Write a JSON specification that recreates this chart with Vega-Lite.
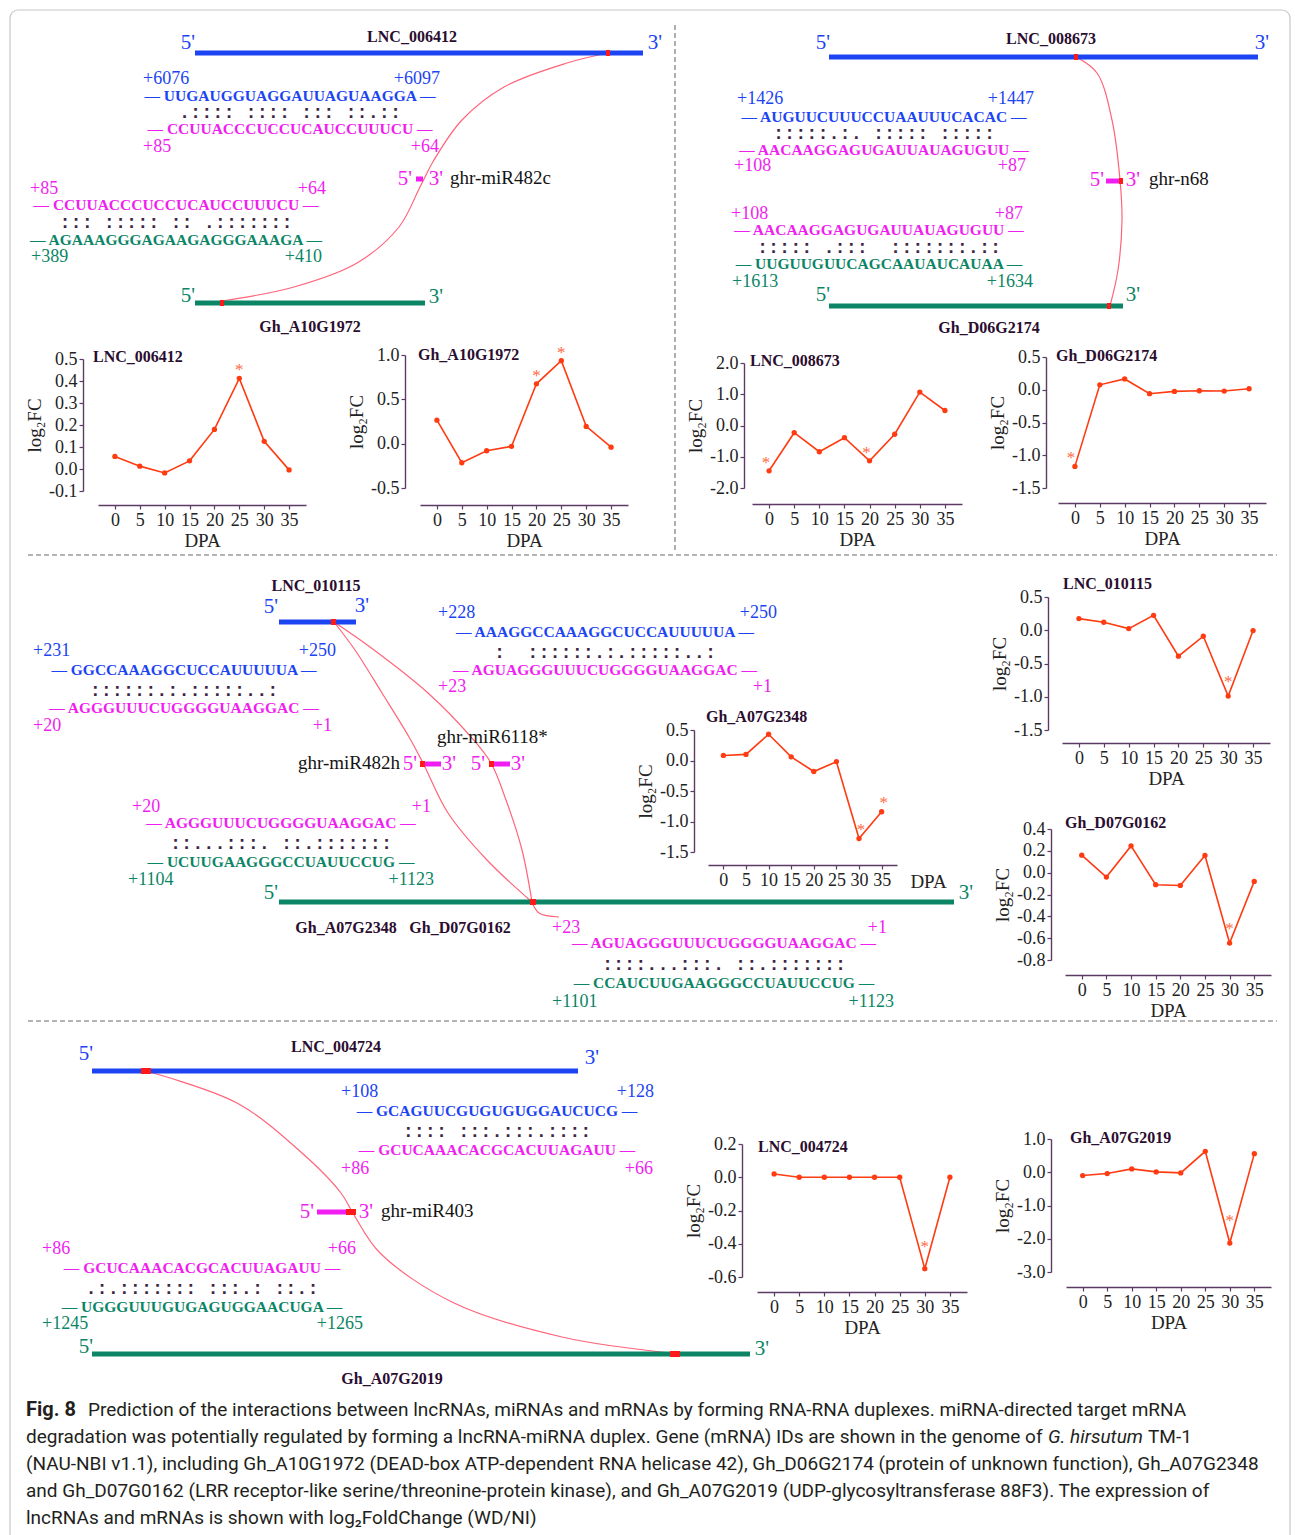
{
"$schema": "https://vega.github.io/schema/vega-lite/v6.json",
"width": 1295, "height": 1535,
"autosize": {"type": "none"},
"padding": 0,
"background": "white",
"config": {
  "view": {"stroke": null},
  "axis": {"domainColor": "#5b3a63", "tickColor": "#5b3a63", "domainWidth": 1.4, "tickWidth": 1.2, "tickSize": 4,
    "labelFont": "Liberation Serif", "labelFontSize": 18, "labelColor": "#222222", "labelPadding": 2,
    "labelFlush": false, "labelOverlap": false, "labelBound": false,
    "titleFont": "Liberation Serif", "titleFontSize": 19, "titleFontWeight": "normal", "titleColor": "#222222", "grid": false},
  "axisBottom": {"titlePadding": 2},
  "axisLeft": {"titlePadding": 4}
},
"datasets": {
  "expr": [
    {"g":"LNC_006412","d":0,"v":0.057,"s":false},{"g":"LNC_006412","d":5,"v":0.013,"s":false},{"g":"LNC_006412","d":10,"v":-0.018,"s":false},{"g":"LNC_006412","d":15,"v":0.037,"s":false},{"g":"LNC_006412","d":20,"v":0.18,"s":false},{"g":"LNC_006412","d":25,"v":0.412,"s":true},{"g":"LNC_006412","d":30,"v":0.126,"s":false},{"g":"LNC_006412","d":35,"v":-0.004,"s":false},
    {"g":"Gh_A10G1972","d":0,"v":0.265,"s":false},{"g":"Gh_A10G1972","d":5,"v":-0.215,"s":false},{"g":"Gh_A10G1972","d":10,"v":-0.08,"s":false},{"g":"Gh_A10G1972","d":15,"v":-0.03,"s":false},{"g":"Gh_A10G1972","d":20,"v":0.675,"s":true},{"g":"Gh_A10G1972","d":25,"v":0.935,"s":true},{"g":"Gh_A10G1972","d":30,"v":0.195,"s":false},{"g":"Gh_A10G1972","d":35,"v":-0.04,"s":false},
    {"g":"LNC_008673","d":0,"v":-1.45,"s":true},{"g":"LNC_008673","d":5,"v":-0.23,"s":false},{"g":"LNC_008673","d":10,"v":-0.84,"s":false},{"g":"LNC_008673","d":15,"v":-0.39,"s":false},{"g":"LNC_008673","d":20,"v":-1.13,"s":true},{"g":"LNC_008673","d":25,"v":-0.28,"s":false},{"g":"LNC_008673","d":30,"v":1.07,"s":false},{"g":"LNC_008673","d":35,"v":0.48,"s":false},
    {"g":"Gh_D06G2174","d":0,"v":-1.17,"s":true},{"g":"Gh_D06G2174","d":5,"v":0.075,"s":false},{"g":"Gh_D06G2174","d":10,"v":0.165,"s":false},{"g":"Gh_D06G2174","d":15,"v":-0.06,"s":false},{"g":"Gh_D06G2174","d":20,"v":-0.025,"s":false},{"g":"Gh_D06G2174","d":25,"v":-0.015,"s":false},{"g":"Gh_D06G2174","d":30,"v":-0.02,"s":false},{"g":"Gh_D06G2174","d":35,"v":0.015,"s":false},
    {"g":"LNC_010115","d":0,"v":0.175,"s":false},{"g":"LNC_010115","d":5,"v":0.12,"s":false},{"g":"LNC_010115","d":10,"v":0.025,"s":false},{"g":"LNC_010115","d":15,"v":0.225,"s":false},{"g":"LNC_010115","d":20,"v":-0.39,"s":false},{"g":"LNC_010115","d":25,"v":-0.09,"s":false},{"g":"LNC_010115","d":30,"v":-0.99,"s":true},{"g":"LNC_010115","d":35,"v":-0.005,"s":false},
    {"g":"Gh_D07G0162","d":0,"v":0.16,"s":false},{"g":"Gh_D07G0162","d":5,"v":-0.04,"s":false},{"g":"Gh_D07G0162","d":10,"v":0.245,"s":false},{"g":"Gh_D07G0162","d":15,"v":-0.11,"s":false},{"g":"Gh_D07G0162","d":20,"v":-0.117,"s":false},{"g":"Gh_D07G0162","d":25,"v":0.158,"s":false},{"g":"Gh_D07G0162","d":30,"v":-0.645,"s":true},{"g":"Gh_D07G0162","d":35,"v":-0.08,"s":false},
    {"g":"Gh_A07G2348","d":0,"v":0.083,"s":false},{"g":"Gh_A07G2348","d":5,"v":0.1,"s":false},{"g":"Gh_A07G2348","d":10,"v":0.43,"s":false},{"g":"Gh_A07G2348","d":15,"v":0.06,"s":false},{"g":"Gh_A07G2348","d":20,"v":-0.18,"s":false},{"g":"Gh_A07G2348","d":25,"v":-0.02,"s":false},{"g":"Gh_A07G2348","d":30,"v":-1.28,"s":true},{"g":"Gh_A07G2348","d":35,"v":-0.84,"s":true},
    {"g":"LNC_004724","d":0,"v":0.02,"s":false},{"g":"LNC_004724","d":5,"v":0.0,"s":false},{"g":"LNC_004724","d":10,"v":0.0,"s":false},{"g":"LNC_004724","d":15,"v":0.0,"s":false},{"g":"LNC_004724","d":20,"v":0.0,"s":false},{"g":"LNC_004724","d":25,"v":0.0,"s":false},{"g":"LNC_004724","d":30,"v":-0.55,"s":true},{"g":"LNC_004724","d":35,"v":0.0,"s":false},
    {"g":"Gh_A07G2019","d":0,"v":-0.1,"s":false},{"g":"Gh_A07G2019","d":5,"v":-0.04,"s":false},{"g":"Gh_A07G2019","d":10,"v":0.1,"s":false},{"g":"Gh_A07G2019","d":15,"v":0.01,"s":false},{"g":"Gh_A07G2019","d":20,"v":-0.02,"s":false},{"g":"Gh_A07G2019","d":25,"v":0.63,"s":false},{"g":"Gh_A07G2019","d":30,"v":-2.13,"s":true},{"g":"Gh_A07G2019","d":35,"v":0.56,"s":false}
  ],
  "shapes": [
    {"k":"frame","x":10,"x2":1290,"y":10,"y2":1560,"r":"grid"},
    {"k":"div","x":675,"x2":675,"y":25,"y2":553,"r":"grid"},
    {"k":"div","x":28,"x2":1277,"y":555,"y2":555,"r":"grid"},
    {"k":"div","x":28,"x2":1277,"y":1021,"y2":1021,"r":"grid"},
    {"k":"bar","x":195,"x2":643,"y":53,"y2":53,"r":"lnc"},
    {"k":"bar","x":195,"x2":425,"y":303,"y2":303,"r":"mrna"},
    {"k":"mbar","x":416,"x2":423,"y":179,"y2":179,"r":"mir"},
    {"k":"bar","x":829,"x2":1258,"y":57,"y2":57,"r":"lnc"},
    {"k":"bar","x":829,"x2":1123,"y":306,"y2":306,"r":"mrna"},
    {"k":"mbar","x":1106,"x2":1123,"y":181,"y2":181,"r":"mir"},
    {"k":"bar","x":279,"x2":356,"y":622,"y2":622,"r":"lnc"},
    {"k":"bar","x":279,"x2":954,"y":902,"y2":902,"r":"mrna"},
    {"k":"mbar","x":420,"x2":441,"y":764,"y2":764,"r":"mir"},
    {"k":"mbar","x":489,"x2":510,"y":764,"y2":764,"r":"mir"},
    {"k":"bar","x":92,"x2":578,"y":1071,"y2":1071,"r":"lnc"},
    {"k":"mbar","x":317,"x2":356,"y":1212,"y2":1212,"r":"mir"},
    {"k":"bar","x":92,"x2":750,"y":1354,"y2":1354,"r":"mrna"},
    {"k":"site","x":606,"x2":610,"y":53,"y2":53,"r":"site"},
    {"k":"site","x":220,"x2":224,"y":303,"y2":303,"r":"site"},
    {"k":"site","x":1074,"x2":1078,"y":57,"y2":57,"r":"site"},
    {"k":"site","x":1107,"x2":1111,"y":306,"y2":306,"r":"site"},
    {"k":"site","x":1119,"x2":1123,"y":181,"y2":181,"r":"site"},
    {"k":"site","x":331,"x2":336,"y":622,"y2":622,"r":"site"},
    {"k":"site","x":530,"x2":536,"y":902,"y2":902,"r":"site"},
    {"k":"site","x":420,"x2":425,"y":764,"y2":764,"r":"site"},
    {"k":"site","x":489,"x2":494,"y":764,"y2":764,"r":"site"},
    {"k":"site","x":141,"x2":151,"y":1071,"y2":1071,"r":"site"},
    {"k":"site","x":346,"x2":356,"y":1212,"y2":1212,"r":"site"},
    {"k":"site","x":670,"x2":680,"y":1354,"y2":1354,"r":"site"}
  ],
  "curves": [
    {"c":"tl","i":0,"x":608,"y":53},{"c":"tl","i":1,"x":567,"y":63},{"c":"tl","i":2,"x":504,"y":87},{"c":"tl","i":3,"x":462,"y":120},{"c":"tl","i":4,"x":434,"y":160},{"c":"tl","i":5,"x":420,"y":187},{"c":"tl","i":6,"x":399,"y":227},{"c":"tl","i":7,"x":357,"y":263},{"c":"tl","i":8,"x":294,"y":287},{"c":"tl","i":9,"x":222,"y":301},
    {"c":"tr","i":0,"x":1076,"y":57},{"c":"tr","i":1,"x":1097,"y":73},{"c":"tr","i":2,"x":1112,"y":120},{"c":"tr","i":3,"x":1120,"y":180},{"c":"tr","i":4,"x":1122,"y":220},{"c":"tr","i":5,"x":1118,"y":270},{"c":"tr","i":6,"x":1110,"y":306},
    {"c":"ma","i":0,"x":334,"y":622},{"c":"ma","i":1,"x":355,"y":650},{"c":"ma","i":2,"x":382,"y":693},{"c":"ma","i":3,"x":409,"y":737},{"c":"ma","i":4,"x":423,"y":763},{"c":"ma","i":5,"x":448,"y":813},{"c":"ma","i":6,"x":487,"y":860},{"c":"ma","i":7,"x":532,"y":902},
    {"c":"mb","i":0,"x":334,"y":622},{"c":"mb","i":1,"x":370,"y":647},{"c":"mb","i":2,"x":428,"y":693},{"c":"mb","i":3,"x":471,"y":737},{"c":"mb","i":4,"x":491,"y":763},{"c":"mb","i":5,"x":506,"y":800},{"c":"mb","i":6,"x":522,"y":850},{"c":"mb","i":7,"x":532,"y":902},
    {"c":"mt","i":0,"x":532,"y":902},{"c":"mt","i":1,"x":539,"y":913},{"c":"mt","i":2,"x":559,"y":917},
    {"c":"bb","i":0,"x":146,"y":1071},{"c":"bb","i":1,"x":237,"y":1103},{"c":"bb","i":2,"x":302,"y":1153},{"c":"bb","i":3,"x":341,"y":1193},{"c":"bb","i":4,"x":354,"y":1215},{"c":"bb","i":5,"x":380,"y":1253},{"c":"bb","i":6,"x":454,"y":1303},{"c":"bb","i":7,"x":562,"y":1337},{"c":"bb","i":8,"x":670,"y":1353}
  ],
  "labels": [
    {"k":"gene","t":"LNC_006412","x":412,"y":37,"r":"dark"},
    {"k":"prime","t":"5'","x":188,"y":43,"r":"lnc"},
    {"k":"prime","t":"3'","x":655,"y":43,"r":"lnc"},
    {"k":"numL","t":"+6076","x":143,"y":79,"r":"lnc"},
    {"k":"numR","t":"+6097","x":440,"y":79,"r":"lnc"},
    {"k":"seq","t":"— UUGAUGGUAGGAUUAGUAAGGA —","x":290,"y":96,"r":"lnc"},
    {"k":"dots","t":"\u00a0\u00a0.::::\u00a0::::\u00a0:::\u00a0::.::","x":290,"y":112,"r":"dark"},
    {"k":"seq","t":"— CCUUACCCUCCUCAUCCUUUCU —","x":290,"y":129,"r":"mir"},
    {"k":"numL","t":"+85","x":143,"y":147,"r":"mir"},
    {"k":"numR","t":"+64","x":439,"y":147,"r":"mir"},
    {"k":"prime","t":"5'","x":405,"y":179,"r":"mir"},
    {"k":"prime","t":"3'","x":436,"y":179,"r":"mir"},
    {"k":"mirL","t":"ghr-miR482c","x":450,"y":178,"r":"black"},
    {"k":"numL","t":"+85","x":30,"y":189,"r":"mir"},
    {"k":"numR","t":"+64","x":326,"y":189,"r":"mir"},
    {"k":"seq","t":"— CCUUACCCUCCUCAUCCUUUCU —","x":176,"y":205,"r":"mir"},
    {"k":"dots","t":"\u00a0:::\u00a0:::::\u00a0::\u00a0.:::::::","x":176,"y":222,"r":"dark"},
    {"k":"seq","t":"— AGAAAGGGAGAAGAGGGAAAGA —","x":176,"y":240,"r":"mrna"},
    {"k":"numL","t":"+389","x":31,"y":257,"r":"mrna"},
    {"k":"numR","t":"+410","x":322,"y":257,"r":"mrna"},
    {"k":"prime","t":"5'","x":188,"y":296,"r":"mrna"},
    {"k":"prime","t":"3'","x":436,"y":297,"r":"mrna"},
    {"k":"gene","t":"Gh_A10G1972","x":310,"y":327,"r":"dark"},

    {"k":"gene","t":"LNC_008673","x":1051,"y":39,"r":"dark"},
    {"k":"prime","t":"5'","x":823,"y":43,"r":"lnc"},
    {"k":"prime","t":"3'","x":1262,"y":43,"r":"lnc"},
    {"k":"numL","t":"+1426","x":737,"y":99,"r":"lnc"},
    {"k":"numR","t":"+1447","x":1034,"y":99,"r":"lnc"},
    {"k":"seq","t":"— AUGUUCUUUCCUAAUUUCACAC —","x":884,"y":117,"r":"lnc"},
    {"k":"dots","t":"\u00a0:::::.:.\u00a0:::::\u00a0:::::\u00a0","x":884,"y":133,"r":"dark"},
    {"k":"seq","t":"— AACAAGGAGUGAUUAUAGUGUU —","x":884,"y":150,"r":"mir"},
    {"k":"numL","t":"+108","x":734,"y":166,"r":"mir"},
    {"k":"numR","t":"+87","x":1026,"y":166,"r":"mir"},
    {"k":"prime","t":"5'","x":1097,"y":180,"r":"mir"},
    {"k":"prime","t":"3'","x":1133,"y":180,"r":"mir"},
    {"k":"mirL","t":"ghr-n68","x":1149,"y":179,"r":"black"},
    {"k":"numL","t":"+108","x":731,"y":214,"r":"mir"},
    {"k":"numR","t":"+87","x":1023,"y":214,"r":"mir"},
    {"k":"seq","t":"— AACAAGGAGUGAUUAUAGUGUU —","x":879,"y":230,"r":"mir"},
    {"k":"dots","t":":::::\u00a0.:::\u00a0\u00a0:::::::.::","x":879,"y":247,"r":"dark"},
    {"k":"seq","t":"— UUGUUGUUCAGCAAUAUCAUAA —","x":879,"y":264,"r":"mrna"},
    {"k":"numL","t":"+1613","x":732,"y":282,"r":"mrna"},
    {"k":"numR","t":"+1634","x":1033,"y":282,"r":"mrna"},
    {"k":"prime","t":"5'","x":823,"y":295,"r":"mrna"},
    {"k":"prime","t":"3'","x":1133,"y":295,"r":"mrna"},
    {"k":"gene","t":"Gh_D06G2174","x":989,"y":328,"r":"dark"},

    {"k":"gene","t":"LNC_010115","x":316,"y":586,"r":"dark"},
    {"k":"prime","t":"5'","x":271,"y":607,"r":"lnc"},
    {"k":"prime","t":"3'","x":362,"y":606,"r":"lnc"},
    {"k":"numL","t":"+231","x":33,"y":651,"r":"lnc"},
    {"k":"numR","t":"+250","x":336,"y":651,"r":"lnc"},
    {"k":"seq","t":"— GGCCAAAGGCUCCAUUUUUA —","x":184,"y":670,"r":"lnc"},
    {"k":"dots","t":"\u00a0\u00a0::::::.:.:::::..:\u00a0","x":184,"y":690,"r":"dark"},
    {"k":"seq","t":"— AGGGUUUCUGGGGUAAGGAC —","x":184,"y":708,"r":"mir"},
    {"k":"numL","t":"+20","x":33,"y":726,"r":"mir"},
    {"k":"numR","t":"+1","x":332,"y":726,"r":"mir"},
    {"k":"numL","t":"+228","x":438,"y":613,"r":"lnc"},
    {"k":"numR","t":"+250","x":777,"y":613,"r":"lnc"},
    {"k":"seq","t":"— AAAGGCCAAAGGCUCCAUUUUUA —","x":605,"y":632,"r":"lnc"},
    {"k":"dots","t":"\u00a0\u00a0:\u00a0\u00a0::::::.:.:::::..:\u00a0","x":605,"y":652,"r":"dark"},
    {"k":"seq","t":"— AGUAGGGUUUCUGGGGUAAGGAC —","x":605,"y":670,"r":"mir"},
    {"k":"numL","t":"+23","x":438,"y":687,"r":"mir"},
    {"k":"numR","t":"+1","x":772,"y":687,"r":"mir"},
    {"k":"mirL","t":"ghr-miR6118*","x":437,"y":737,"r":"black"},
    {"k":"mirR","t":"ghr-miR482h","x":400,"y":763,"r":"black"},
    {"k":"prime","t":"5'","x":410,"y":764,"r":"mir"},
    {"k":"prime","t":"3'","x":449,"y":764,"r":"mir"},
    {"k":"prime","t":"5'","x":478,"y":764,"r":"mir"},
    {"k":"prime","t":"3'","x":518,"y":764,"r":"mir"},
    {"k":"numL","t":"+20","x":132,"y":807,"r":"mir"},
    {"k":"numR","t":"+1","x":431,"y":807,"r":"mir"},
    {"k":"seq","t":"— AGGGUUUCUGGGGUAAGGAC —","x":281,"y":823,"r":"mir"},
    {"k":"dots","t":"::...:::.\u00a0::.:::::::","x":281,"y":843,"r":"dark"},
    {"k":"seq","t":"— UCUUGAAGGGCCUAUUCCUG —","x":281,"y":862,"r":"mrna"},
    {"k":"numL","t":"+1104","x":128,"y":880,"r":"mrna"},
    {"k":"numR","t":"+1123","x":434,"y":880,"r":"mrna"},
    {"k":"prime","t":"5'","x":271,"y":893,"r":"mrna"},
    {"k":"prime","t":"3'","x":966,"y":893,"r":"mrna"},
    {"k":"gene","t":"Gh_A07G2348","x":346,"y":928,"r":"dark"},
    {"k":"gene","t":"Gh_D07G0162","x":460,"y":928,"r":"dark"},
    {"k":"numL","t":"+23","x":552,"y":928,"r":"mir"},
    {"k":"numR","t":"+1","x":887,"y":928,"r":"mir"},
    {"k":"seq","t":"— AGUAGGGUUUCUGGGGUAAGGAC —","x":724,"y":943,"r":"mir"},
    {"k":"dots","t":"\u00a0::::...:::.\u00a0::.:::::::","x":724,"y":964,"r":"dark"},
    {"k":"seq","t":"— CCAUCUUGAAGGGCCUAUUCCUG —","x":724,"y":983,"r":"mrna"},
    {"k":"numL","t":"+1101","x":552,"y":1002,"r":"mrna"},
    {"k":"numR","t":"+1123","x":894,"y":1002,"r":"mrna"},

    {"k":"prime","t":"5'","x":86,"y":1054,"r":"lnc"},
    {"k":"prime","t":"3'","x":592,"y":1058,"r":"lnc"},
    {"k":"gene","t":"LNC_004724","x":336,"y":1047,"r":"dark"},
    {"k":"numL","t":"+108","x":341,"y":1092,"r":"lnc"},
    {"k":"numR","t":"+128","x":654,"y":1092,"r":"lnc"},
    {"k":"seq","t":"— GCAGUUCGUGUGUGGAUCUCG —","x":497,"y":1111,"r":"lnc"},
    {"k":"dots","t":"\u00a0\u00a0::::\u00a0:::.:::.::::\u00a0\u00a0","x":497,"y":1131,"r":"dark"},
    {"k":"seq","t":"— GCUCAAACACGCACUUAGAUU —","x":497,"y":1150,"r":"mir"},
    {"k":"numL","t":"+86","x":341,"y":1169,"r":"mir"},
    {"k":"numR","t":"+66","x":653,"y":1169,"r":"mir"},
    {"k":"prime","t":"5'","x":307,"y":1212,"r":"mir"},
    {"k":"prime","t":"3'","x":366,"y":1212,"r":"mir"},
    {"k":"mirL","t":"ghr-miR403","x":381,"y":1211,"r":"black"},
    {"k":"numL","t":"+86","x":42,"y":1249,"r":"mir"},
    {"k":"numR","t":"+66","x":356,"y":1249,"r":"mir"},
    {"k":"seq","t":"— GCUCAAACACGCACUUAGAUU —","x":202,"y":1268,"r":"mir"},
    {"k":"dots","t":".:.:::::::\u00a0:::.:\u00a0::.:","x":202,"y":1288,"r":"dark"},
    {"k":"seq","t":"— UGGGUUUGUGAGUGGAACUGA —","x":202,"y":1307,"r":"mrna"},
    {"k":"numL","t":"+1245","x":42,"y":1324,"r":"mrna"},
    {"k":"numR","t":"+1265","x":363,"y":1324,"r":"mrna"},
    {"k":"prime","t":"5'","x":86,"y":1347,"r":"mrna"},
    {"k":"prime","t":"3'","x":762,"y":1349,"r":"mrna"},
    {"k":"gene","t":"Gh_A07G2019","x":392,"y":1379,"r":"dark"},

    {"k":"ctitle","t":"LNC_006412","x":93,"y":357,"r":"dark"},
    {"k":"ctitle","t":"Gh_A10G1972","x":418,"y":355,"r":"dark"},
    {"k":"ctitle","t":"LNC_008673","x":750,"y":361,"r":"dark"},
    {"k":"ctitle","t":"Gh_D06G2174","x":1056,"y":356,"r":"dark"},
    {"k":"ctitle","t":"LNC_010115","x":1063,"y":584,"r":"dark"},
    {"k":"ctitle","t":"Gh_D07G0162","x":1065,"y":823,"r":"dark"},
    {"k":"ctitle","t":"Gh_A07G2348","x":706,"y":717,"r":"dark"},
    {"k":"ctitle","t":"LNC_004724","x":758,"y":1147,"r":"dark"},
    {"k":"ctitle","t":"Gh_A07G2019","x":1070,"y":1138,"r":"dark"},

    {"k":"capB","t":"Fig. 8","x":26,"y":1410,"r":"cap"},
    {"k":"cap","t":"Prediction of the interactions between lncRNAs, miRNAs and mRNAs by forming RNA-RNA duplexes. miRNA-directed target mRNA","x":88,"y":1410,"r":"cap"},
    {"k":"cap","t":"degradation was potentially regulated by forming a lncRNA-miRNA duplex. Gene (mRNA) IDs are shown in the genome of","x":26,"y":1437,"r":"cap"},
    {"k":"capI","t":"G. hirsutum","x":1048,"y":1437,"r":"cap"},
    {"k":"cap","t":"TM-1","x":1148,"y":1437,"r":"cap"},
    {"k":"cap","t":"(NAU-NBI v1.1), including Gh_A10G1972 (DEAD-box ATP-dependent RNA helicase 42), Gh_D06G2174 (protein of unknown function), Gh_A07G2348","x":26,"y":1464,"r":"cap"},
    {"k":"cap","t":"and Gh_D07G0162 (LRR receptor-like serine/threonine-protein kinase), and Gh_A07G2019 (UDP-glycosyltransferase 88F3). The expression of","x":26,"y":1491,"r":"cap"},
    {"k":"cap","t":"lncRNAs and mRNAs is shown with log₂FoldChange (WD/NI)","x":26,"y":1518,"r":"cap"}
  ]
},
"resolve": {"scale": {"x": "independent", "y": "independent"}},
"layer": [
  {
    "encoding": {
      "x": {"field": "x", "type": "quantitative", "scale": {"domain": [0, 1295], "range": [0, 1295], "nice": false, "zero": false}, "axis": null},
      "y": {"field": "y", "type": "quantitative", "scale": {"domain": [0, 1535], "range": [0, 1535], "nice": false, "zero": false}, "axis": null}
    },
    "layer": [
      {"data": {"name": "shapes"}, "transform": [{"filter": "datum.k === 'frame'"}],
       "mark": {"type": "rect", "filled": false, "color": "#c8c8c8", "strokeWidth": 1.2, "cornerRadius": 8},
       "encoding": {"x2": {"field": "x2"}, "y2": {"field": "y2"}}},
      {"data": {"name": "shapes"}, "transform": [{"filter": "datum.k === 'div'"}],
       "mark": {"type": "rule", "color": "#9c9c9c", "strokeWidth": 1.6, "strokeDash": [5, 3]},
       "encoding": {"x2": {"field": "x2"}, "y2": {"field": "y2"}}},
      {"data": {"name": "curves"},
       "mark": {"type": "line", "color": "#ff6479", "strokeWidth": 1.2, "interpolate": "catmull-rom"},
       "encoding": {"detail": {"field": "c"}, "order": {"field": "i", "type": "quantitative"}}},
      {"data": {"name": "shapes"}, "transform": [{"filter": "datum.k === 'bar'"}],
       "mark": {"type": "rule", "strokeWidth": 5},
       "encoding": {"x2": {"field": "x2"}, "color": {"field": "r", "type": "nominal", "legend": null,
         "scale": {"domain": ["lnc","mir","mrna","dark","black","site","cap","grid"], "range": ["#1c44f2","#f01ef0","#0b8566","#2b0d30","#141414","#ff1a1a","#231f20","#9c9c9c"]}}}},
      {"data": {"name": "shapes"}, "transform": [{"filter": "datum.k === 'mbar'"}],
       "mark": {"type": "rule", "strokeWidth": 5},
       "encoding": {"x2": {"field": "x2"}, "color": {"field": "r", "type": "nominal", "legend": null}}},
      {"data": {"name": "shapes"}, "transform": [{"filter": "datum.k === 'site'"}],
       "mark": {"type": "rule", "strokeWidth": 6},
       "encoding": {"x2": {"field": "x2"}, "color": {"field": "r", "type": "nominal", "legend": null}}},
      {"data": {"name": "labels"}, "transform": [{"filter": "datum.k === 'seq'"}],
       "mark": {"type": "text", "font": "Liberation Serif", "fontSize": 15.5, "fontWeight": "bold", "align": "center", "baseline": "middle"},
       "encoding": {"text": {"field": "t"}, "color": {"field": "r", "type": "nominal", "legend": null}}},
      {"data": {"name": "labels"}, "transform": [{"filter": "datum.k === 'dots'"}],
       "mark": {"type": "text", "font": "Liberation Mono", "fontSize": 18.5, "fontWeight": "bold", "align": "center", "baseline": "middle", "opacity": 0.9},
       "encoding": {"text": {"field": "t"}, "color": {"field": "r", "type": "nominal", "legend": null}}},
      {"data": {"name": "labels"}, "transform": [{"filter": "datum.k === 'numL'"}],
       "mark": {"type": "text", "font": "Liberation Serif", "fontSize": 18, "align": "left", "baseline": "middle"},
       "encoding": {"text": {"field": "t"}, "color": {"field": "r", "type": "nominal", "legend": null}}},
      {"data": {"name": "labels"}, "transform": [{"filter": "datum.k === 'numR'"}],
       "mark": {"type": "text", "font": "Liberation Serif", "fontSize": 18, "align": "right", "baseline": "middle"},
       "encoding": {"text": {"field": "t"}, "color": {"field": "r", "type": "nominal", "legend": null}}},
      {"data": {"name": "labels"}, "transform": [{"filter": "datum.k === 'prime'"}],
       "mark": {"type": "text", "font": "Liberation Serif", "fontSize": 21, "align": "center", "baseline": "middle"},
       "encoding": {"text": {"field": "t"}, "color": {"field": "r", "type": "nominal", "legend": null}}},
      {"data": {"name": "labels"}, "transform": [{"filter": "datum.k === 'gene'"}],
       "mark": {"type": "text", "font": "Liberation Serif", "fontSize": 16, "fontWeight": "bold", "align": "center", "baseline": "middle"},
       "encoding": {"text": {"field": "t"}, "color": {"field": "r", "type": "nominal", "legend": null}}},
      {"data": {"name": "labels"}, "transform": [{"filter": "datum.k === 'ctitle'"}],
       "mark": {"type": "text", "font": "Liberation Serif", "fontSize": 16, "fontWeight": "bold", "align": "left", "baseline": "middle"},
       "encoding": {"text": {"field": "t"}, "color": {"field": "r", "type": "nominal", "legend": null}}},
      {"data": {"name": "labels"}, "transform": [{"filter": "datum.k === 'mirL'"}],
       "mark": {"type": "text", "font": "Liberation Serif", "fontSize": 19, "align": "left", "baseline": "middle"},
       "encoding": {"text": {"field": "t"}, "color": {"field": "r", "type": "nominal", "legend": null}}},
      {"data": {"name": "labels"}, "transform": [{"filter": "datum.k === 'mirR'"}],
       "mark": {"type": "text", "font": "Liberation Serif", "fontSize": 19, "align": "right", "baseline": "middle"},
       "encoding": {"text": {"field": "t"}, "color": {"field": "r", "type": "nominal", "legend": null}}},
      {"data": {"name": "labels"}, "transform": [{"filter": "datum.k === 'cap'"}],
       "mark": {"type": "text", "font": "Roboto", "fontSize": 19, "align": "left", "baseline": "middle"},
       "encoding": {"text": {"field": "t"}, "color": {"field": "r", "type": "nominal", "legend": null}}},
      {"data": {"name": "labels"}, "transform": [{"filter": "datum.k === 'capI'"}],
       "mark": {"type": "text", "font": "Roboto", "fontSize": 19, "fontStyle": "italic", "align": "left", "baseline": "middle"},
       "encoding": {"text": {"field": "t"}, "color": {"field": "r", "type": "nominal", "legend": null}}},
      {"data": {"name": "labels"}, "transform": [{"filter": "datum.k === 'capB'"}],
       "mark": {"type": "text", "font": "Roboto", "fontSize": 20, "fontWeight": "bold", "align": "left", "baseline": "middle"},
       "encoding": {"text": {"field": "t"}, "color": {"field": "r", "type": "nominal", "legend": null}}}
    ]
  },
  {
    "data": {"name": "expr"}, "transform": [{"filter": "datum.g === 'LNC_006412'"}],
    "encoding": {
      "x": {"field": "d", "type": "quantitative", "scale": {"domain": [-3.4, 38.4], "range": [98, 306], "nice": false, "zero": false},
            "axis": {"orient": "bottom", "offset": -1030, "values": [0,5,10,15,20,25,30,35], "title": "DPA"}},
      "y": {"field": "v", "type": "quantitative", "scale": {"domain": [-0.1, 0.5], "range": [491, 359], "nice": false, "zero": false},
            "axis": {"orient": "left", "offset": -83, "values": [-0.1,0,0.1,0.2,0.3,0.4,0.5], "title": "log₂FC", "labelExpr": "replace(format(datum.value,'.1f'),'\u2212','-')"}}
    },
    "layer": [
      {"mark": {"type": "line", "color": "#ff3b12", "strokeWidth": 1.6}},
      {"mark": {"type": "circle", "color": "#ff3b12", "size": 28, "opacity": 1}},
      {"transform": [{"filter": "datum.s"}], "mark": {"type": "text", "text": "*", "font": "Liberation Serif", "fontSize": 17, "color": "#ff6a45", "dy": -8, "baseline": "middle"}}
    ]
  },
  {
    "data": {"name": "expr"}, "transform": [{"filter": "datum.g === 'Gh_A10G1972'"}],
    "encoding": {
      "x": {"field": "d", "type": "quantitative", "scale": {"domain": [-3.4, 38.4], "range": [420, 628], "nice": false, "zero": false},
            "axis": {"orient": "bottom", "offset": -1030, "values": [0,5,10,15,20,25,30,35], "title": "DPA"}},
      "y": {"field": "v", "type": "quantitative", "scale": {"domain": [-0.5, 1.0], "range": [488, 355], "nice": false, "zero": false},
            "axis": {"orient": "left", "offset": -405, "values": [-0.5,0,0.5,1.0], "title": "log₂FC", "labelExpr": "replace(format(datum.value,'.1f'),'\u2212','-')"}}
    },
    "layer": [
      {"mark": {"type": "line", "color": "#ff3b12", "strokeWidth": 1.6}},
      {"mark": {"type": "circle", "color": "#ff3b12", "size": 28, "opacity": 1}},
      {"transform": [{"filter": "datum.s"}], "mark": {"type": "text", "text": "*", "font": "Liberation Serif", "fontSize": 17, "color": "#ff6a45", "dy": -8, "baseline": "middle"}}
    ]
  },
  {
    "data": {"name": "expr"}, "transform": [{"filter": "datum.g === 'LNC_008673'"}],
    "encoding": {
      "x": {"field": "d", "type": "quantitative", "scale": {"domain": [-3.4, 38.4], "range": [752, 962], "nice": false, "zero": false},
            "axis": {"orient": "bottom", "offset": -1031, "values": [0,5,10,15,20,25,30,35], "title": "DPA"}},
      "y": {"field": "v", "type": "quantitative", "scale": {"domain": [-2, 2], "range": [488, 363], "nice": false, "zero": false},
            "axis": {"orient": "left", "offset": -744, "values": [-2,-1,0,1,2], "title": "log₂FC", "labelExpr": "replace(format(datum.value,'.1f'),'\u2212','-')"}}
    },
    "layer": [
      {"mark": {"type": "line", "color": "#ff3b12", "strokeWidth": 1.6}},
      {"mark": {"type": "circle", "color": "#ff3b12", "size": 28, "opacity": 1}},
      {"transform": [{"filter": "datum.s"}], "mark": {"type": "text", "text": "*", "font": "Liberation Serif", "fontSize": 17, "color": "#ff6a45", "dy": -8, "dx": -3, "baseline": "middle"}}
    ]
  },
  {
    "data": {"name": "expr"}, "transform": [{"filter": "datum.g === 'Gh_D06G2174'"}],
    "encoding": {
      "x": {"field": "d", "type": "quantitative", "scale": {"domain": [-3.4, 38.4], "range": [1058, 1266], "nice": false, "zero": false},
            "axis": {"orient": "bottom", "offset": -1032, "values": [0,5,10,15,20,25,30,35], "title": "DPA"}},
      "y": {"field": "v", "type": "quantitative", "scale": {"domain": [-1.5, 0.5], "range": [488, 357], "nice": false, "zero": false},
            "axis": {"orient": "left", "offset": -1046, "values": [-1.5,-1,-0.5,0,0.5], "title": "log₂FC", "labelExpr": "replace(format(datum.value,'.1f'),'\u2212','-')"}}
    },
    "layer": [
      {"mark": {"type": "line", "color": "#ff3b12", "strokeWidth": 1.6}},
      {"mark": {"type": "circle", "color": "#ff3b12", "size": 28, "opacity": 1}},
      {"transform": [{"filter": "datum.s"}], "mark": {"type": "text", "text": "*", "font": "Liberation Serif", "fontSize": 17, "color": "#ff6a45", "dy": -8, "dx": -4, "baseline": "middle"}}
    ]
  },
  {
    "data": {"name": "expr"}, "transform": [{"filter": "datum.g === 'LNC_010115'"}],
    "encoding": {
      "x": {"field": "d", "type": "quantitative", "scale": {"domain": [-3.4, 38.4], "range": [1062, 1270], "nice": false, "zero": false},
            "axis": {"orient": "bottom", "offset": -792, "values": [0,5,10,15,20,25,30,35], "title": "DPA"}},
      "y": {"field": "v", "type": "quantitative", "scale": {"domain": [-1.5, 0.5], "range": [730, 597], "nice": false, "zero": false},
            "axis": {"orient": "left", "offset": -1048, "values": [-1.5,-1,-0.5,0,0.5], "title": "log₂FC", "labelExpr": "replace(format(datum.value,'.1f'),'\u2212','-')"}}
    },
    "layer": [
      {"mark": {"type": "line", "color": "#ff3b12", "strokeWidth": 1.6}},
      {"mark": {"type": "circle", "color": "#ff3b12", "size": 28, "opacity": 1}},
      {"transform": [{"filter": "datum.s"}], "mark": {"type": "text", "text": "*", "font": "Liberation Serif", "fontSize": 17, "color": "#ff6a45", "dy": -14, "baseline": "middle"}}
    ]
  },
  {
    "data": {"name": "expr"}, "transform": [{"filter": "datum.g === 'Gh_D07G0162'"}],
    "encoding": {
      "x": {"field": "d", "type": "quantitative", "scale": {"domain": [-3.4, 38.4], "range": [1065, 1271], "nice": false, "zero": false},
            "axis": {"orient": "bottom", "offset": -560, "values": [0,5,10,15,20,25,30,35], "title": "DPA"}},
      "y": {"field": "v", "type": "quantitative", "scale": {"domain": [-0.8, 0.4], "range": [960, 829], "nice": false, "zero": false},
            "axis": {"orient": "left", "offset": -1051, "values": [-0.8,-0.6,-0.4,-0.2,0,0.2,0.4], "title": "log₂FC", "labelExpr": "replace(format(datum.value,'.1f'),'\u2212','-')"}}
    },
    "layer": [
      {"mark": {"type": "line", "color": "#ff3b12", "strokeWidth": 1.6}},
      {"mark": {"type": "circle", "color": "#ff3b12", "size": 28, "opacity": 1}},
      {"transform": [{"filter": "datum.s"}], "mark": {"type": "text", "text": "*", "font": "Liberation Serif", "fontSize": 17, "color": "#ff6a45", "dy": -14, "baseline": "middle"}}
    ]
  },
  {
    "data": {"name": "expr"}, "transform": [{"filter": "datum.g === 'Gh_A07G2348'"}],
    "encoding": {
      "x": {"field": "d", "type": "quantitative", "scale": {"domain": [-3.4, 38.4], "range": [708, 897], "nice": false, "zero": false},
            "axis": {"orient": "bottom", "offset": -670, "values": [0,5,10,15,20,25,30,35], "title": "DPA", "titleX": 928, "titleY": 16, "titleAlign": "center", "titleBaseline": "middle", "titleAngle": 0}},
      "y": {"field": "v", "type": "quantitative", "scale": {"domain": [-1.5, 0.5], "range": [852, 730], "nice": false, "zero": false},
            "axis": {"orient": "left", "offset": -694, "values": [-1.5,-1,-0.5,0,0.5], "title": "log₂FC", "labelExpr": "replace(format(datum.value,'.1f'),'\u2212','-')"}}
    },
    "layer": [
      {"mark": {"type": "line", "color": "#ff3b12", "strokeWidth": 1.6}},
      {"mark": {"type": "circle", "color": "#ff3b12", "size": 28, "opacity": 1}},
      {"transform": [{"filter": "datum.s"}], "mark": {"type": "text", "text": "*", "font": "Liberation Serif", "fontSize": 17, "color": "#ff6a45", "dy": -9, "dx": 2, "baseline": "middle"}}
    ]
  },
  {
    "data": {"name": "expr"}, "transform": [{"filter": "datum.g === 'LNC_004724'"}],
    "encoding": {
      "x": {"field": "d", "type": "quantitative", "scale": {"domain": [-3.4, 38.4], "range": [757, 967], "nice": false, "zero": false},
            "axis": {"orient": "bottom", "offset": -243, "values": [0,5,10,15,20,25,30,35], "title": "DPA"}},
      "y": {"field": "v", "type": "quantitative", "scale": {"domain": [-0.6, 0.2], "range": [1277, 1144], "nice": false, "zero": false},
            "axis": {"orient": "left", "offset": -742, "values": [-0.6,-0.4,-0.2,0,0.2], "title": "log₂FC", "labelExpr": "replace(format(datum.value,'.1f'),'\u2212','-')"}}
    },
    "layer": [
      {"mark": {"type": "line", "color": "#ff3b12", "strokeWidth": 1.6}},
      {"mark": {"type": "circle", "color": "#ff3b12", "size": 28, "opacity": 1}},
      {"transform": [{"filter": "datum.s"}], "mark": {"type": "text", "text": "*", "font": "Liberation Serif", "fontSize": 17, "color": "#ff6a45", "dy": -22, "baseline": "middle"}}
    ]
  },
  {
    "data": {"name": "expr"}, "transform": [{"filter": "datum.g === 'Gh_A07G2019'"}],
    "encoding": {
      "x": {"field": "d", "type": "quantitative", "scale": {"domain": [-3.4, 38.4], "range": [1066, 1271], "nice": false, "zero": false},
            "axis": {"orient": "bottom", "offset": -248, "values": [0,5,10,15,20,25,30,35], "title": "DPA"}},
      "y": {"field": "v", "type": "quantitative", "scale": {"domain": [-3, 1], "range": [1272, 1139], "nice": false, "zero": false},
            "axis": {"orient": "left", "offset": -1051, "values": [-3,-2,-1,0,1], "title": "log₂FC", "labelExpr": "replace(format(datum.value,'.1f'),'\u2212','-')"}}
    },
    "layer": [
      {"mark": {"type": "line", "color": "#ff3b12", "strokeWidth": 1.6}},
      {"mark": {"type": "circle", "color": "#ff3b12", "size": 28, "opacity": 1}},
      {"transform": [{"filter": "datum.s"}], "mark": {"type": "text", "text": "*", "font": "Liberation Serif", "fontSize": 17, "color": "#ff6a45", "dy": -22, "baseline": "middle"}}
    ]
  }
]
}
